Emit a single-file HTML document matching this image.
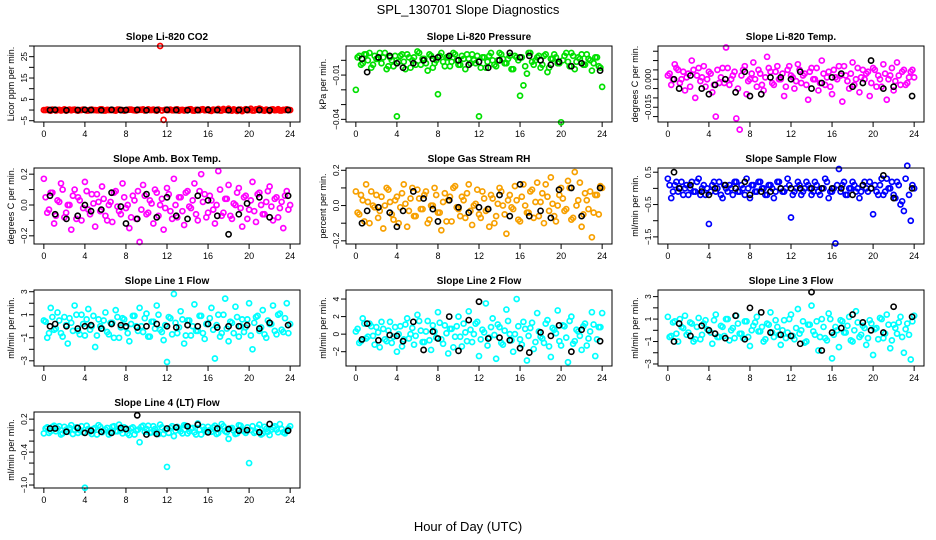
<!DOCTYPE html>
<html><head><meta charset="utf-8"><style>
html,body{margin:0;padding:0;background:#fff}
svg{display:block;font-family:"Liberation Sans",Arial,sans-serif}
</style></head><body>
<svg id="chart" width="936" height="540" viewBox="0 0 936 540" xmlns="http://www.w3.org/2000/svg">
<text x="468" y="14" text-anchor="middle" font-size="13">SPL_130701  Slope Diagnostics</text>
<text x="468" y="531" text-anchor="middle" font-size="13">Hour of Day (UTC)</text>
</svg>
<script>
const hoursColor=[0,0.33,0.67,1,1.33,1.67,2,2.33,2.67,3,3.33,3.67,4,4.33,4.67,5,5.33,5.67,6,6.33,6.67,7,7.33,7.67,8,8.33,8.67,9,9.33,9.67,10,10.33,10.67,11,11.33,11.67,12,12.33,12.67,13,13.33,13.67,14,14.33,14.67,15,15.33,15.67,16,16.33,16.67,17,17.33,17.67,18,18.33,18.67,19,19.33,19.67,20,20.33,20.67,21,21.33,21.67,22,22.33,22.67,23,23.33,23.67,24];
const hoursColorB=[0.17,0.5,0.83,1.17,1.5,1.83,2.17,2.5,2.83,3.17,3.5,3.83,4.17,4.5,4.83,5.17,5.5,5.83,6.17,6.5,6.83,7.17,7.5,7.83,8.17,8.5,8.83,9.17,9.5,9.83,10.17,10.5,10.83,11.17,11.5,11.83,12.17,12.5,12.83,13.17,13.5,13.83,14.17,14.5,14.83,15.17,15.5,15.83,16.17,16.5,16.83,17.17,17.5,17.83,18.17,18.5,18.83,19.17,19.5,19.83,20.17,20.5,20.83,21.17,21.5,21.83,22.17,22.5,22.83,23.17,23.5,23.83];
const hoursBlack=[0.6,1.1,2.2,3.3,4,4.6,5.6,6.6,7.5,8,9.1,10,11,12,12.9,14,15,16,16.9,18,19,19.8,21,22,23.8];
const xTicks=[0,4,8,12,16,20,24];

const co2Color=[0,.2,-.3,.1,0,-.2,.3,0,-.1,.2,-.3,0,.1,-.2,.2,0,-.1,.3,-.2,0,.1,-.3,.2,0,-.1,.2,0,-.2,.1,.3,-.1,0,.2,-.3,30,-4.6,0,.2,-.1,.3,0,-.2,.1,.4,-.3,0,.2,-.1,.3,-.4,0,.5,-.2,.1,.6,-.3,0,.2,-.5,.4,0,-.2,.3,.7,-.1,.2,-.4,.3,0,-.2,.1,.3,0];
const co2ColorB=[0,-.1,.2,-.2,.1,0,-.3,.2,.1,-.1,0,.2,-.2,.1,0,-.1,.3,-.2,.1,0,-.1,.2,0,-.3,.1,.2,-.1,0,.1,-.2,.3,0,-.1,.2,-.2,.1,0,-.1,.2,-.3,.1,0,.3,-.2,.1,-.1,.4,0,-.3,.2,.1,-.2,.5,0,-.1,.3,-.4,.2,0,-.1,.6,-.2,.1,.3,-.3,0,.2,-.1,.4,-.2,0,.1];
const co2Black=[0,.1,-.1,0,.1,0,-.1,.1,0,0,.1,-.1,0,.1,0,-.1,0,.1,0,-.1,0,.1,0,-.1,0];
const presColor=[-20,3,-2,4,5,-3,1,5,2,-6,2,-4,-38,3,-1,4,-5,2,6,-3,1,-7,3,-2,-23,5,-4,2,-1,4,-3,3,-6,1,4,-2,-38,2,-5,3,0,-4,5,1,-2,3,-6,2,-24,-17,-9,5,-3,2,-5,3,-8,1,4,-2,-42,3,-1,5,-6,2,4,-3,1,-7,2,-4,-18];
const presColorB=[2,-3,4,0,-5,3,1,-2,5,-4,0,3,-1,4,-6,2,0,-3,5,1,-2,4,-5,0,3,-1,2,-4,5,0,-3,1,4,-2,0,3,-5,2,-1,5,-3,0,4,-2,1,-6,3,0,2,-4,5,-1,0,3,-3,4,-5,1,2,-2,0,5,-4,3,-1,1,-3,4,0,-2,2,-5];
const presBlack=[1,-8,2,3,-2,-5,-2,0,1,2,3,0,-3,-1,-5,0,5,2,3,0,-3,-1,-4,-2,-7];
const ltempColor=[2,-3,8,5,0,-6,3,10,-10,6,1,-4,4,-7,-20,-2,6,17,-3,2,-21,-27,5,-8,0,9,-4,3,-6,12,4,-3,7,0,-9,5,2,-5,8,-2,3,-11,6,0,-6,10,-3,4,-8,1,7,-12,2,-5,9,0,-7,5,3,-9,6,-4,0,8,-11,2,-6,9,-3,5,-2,4,1];
const ltempColorB=[3,0,6,-2,4,1,-4,5,2,-1,7,0,3,-3,5,1,-2,6,0,4,-5,2,7,-1,3,0,5,-3,1,6,-2,4,0,3,-4,7,1,-1,5,2,-3,4,0,6,-2,3,1,-4,5,0,2,7,-1,3,-3,6,1,0,4,-2,5,2,-4,3,0,6,-1,2,4,-3,1,5];
const ltempBlack=[0,-5,2,-5,-8,-3,0,-7,4,-9,-8,1,1,0,4,-5,-2,1,3,-4,-2,10,-5,-4,-9];
const ambColor=[17,-5,8,-12,3,14,-8,0,-16,10,5,-10,15,-3,7,-14,2,12,-7,0,-11,9,-4,14,-2,-15,6,-9,-24,13,-6,3,-12,8,0,-16,11,-4,17,-8,5,-13,9,-2,14,-10,20,7,-5,3,-12,22,-7,4,13,-9,0,11,-14,6,-3,15,-11,8,-6,2,12,-10,5,-2,-15,9,0];
const ambColorB=[5,-3,8,-7,2,10,-5,0,6,-9,3,-2,9,-6,1,7,-4,4,-10,2,8,-1,-6,5,0,-8,3,9,-3,6,-5,1,10,-7,4,-2,7,-9,0,5,-4,8,-1,3,-6,9,2,-8,6,-3,0,10,-5,4,-7,1,8,-2,5,-9,3,-4,7,0,-6,9,-1,4,-8,2,6,-3];
const ambBlack=[6,-6,-9,-7,0,-4,-3,8,-1,-12,-9,7,-8,5,-7,-9,6,3,-7,-19,-6,1,5,-8,6];
const rhColor=[8,-5,3,12,-10,0,6,-3,-13,10,2,-8,5,-1,12,-12,4,-6,9,-2,6,-10,0,10,-4,-14,7,3,-9,11,-2,5,-7,12,-11,1,-5,8,-3,-12,4,-6,10,0,-16,6,-2,3,-9,12,-4,8,-7,13,2,-10,5,16,-6,0,10,-3,14,-8,19,3,-12,7,-2,-18,6,-5,10];
const rhColorB=[-4,6,-9,2,8,-1,-7,5,0,9,-5,3,-10,7,1,-3,10,-6,4,-2,8,-8,0,6,-4,2,-9,5,10,-1,-6,3,7,-3,0,9,-7,4,-2,6,-10,1,8,-5,3,-1,11,-8,5,0,-4,9,2,-6,7,12,-3,1,-9,6,4,-2,10,-7,0,13,-5,3,8,-4,6,11];
const rhBlack=[-10,-3,-1,-4,-12,-3,8,4,-2,-9,3,-1,-4,-1,-2,6,-6,12,-6,-3,-7,9,10,-6,10];
const sflowColor=[3,-3,1,-1,2,0,-2,2,-1,3,0,-2,-11,1,-1,2,-3,0,1,-2,2,-1,0,3,-3,1,-1,2,0,-2,1,-3,2,0,-1,3,-9,-1,2,-2,0,1,-2,2,-1,0,3,-3,-1,-17,6,1,-2,0,2,-1,-3,1,0,2,-8,-1,1,-2,3,0,-2,2,-5,-7,7,-10,0];
const sflowColorB=[1,-1,2,0,-2,1,0,-1,2,-2,1,0,-1,2,0,-2,1,-1,0,2,-1,1,-2,0,1,-1,2,0,-2,1,0,-1,2,-1,0,1,-2,0,1,-1,2,0,-1,1,-2,0,2,-1,0,1,-1,2,-2,0,1,0,-1,2,-1,0,1,-2,3,-1,0,2,-3,1,-4,3,-2,1];
const sflowBlack=[5,0,1,-1,-2,0,1,0,2,-2,-1,-1,0,0,0,0,0,0,0,-2,1,0,4,-3,0];
const line1Color=[5,-10,16,-3,12,-6,8,-15,3,18,-4,10,-8,15,0,-18,6,-2,12,-7,3,14,-10,7,-1,-13,9,0,16,-5,11,-9,4,18,-3,-12,-31,7,28,-6,13,-15,5,-8,19,-4,9,-11,2,16,-28,10,-6,24,-13,3,17,-9,6,-1,20,-20,8,-4,14,-10,2,18,-7,11,-5,20,2];
const line1ColorB=[4,-6,8,-2,5,-9,1,7,-4,10,-7,2,6,-3,9,-8,0,5,-5,3,-10,8,-1,6,-6,2,9,-4,0,7,-9,4,-2,10,-5,1,8,-7,3,-1,6,-8,5,0,-4,9,-6,2,7,-3,1,-9,10,-2,4,-6,8,0,-5,6,-8,3,9,-1,-7,5,2,-4,10,-3,7,-6];
const line1Black=[0,2,0,-2,0,1,-2,2,1,0,-1,0,2,0,-1,1,0,2,-1,0,0,1,-2,3,1];
const line2Color=[3,-10,18,-5,12,-2,8,-15,6,-8,14,-3,-20,9,-6,18,0,-12,22,4,-9,15,-18,3,25,-6,10,-22,6,-3,20,-14,2,26,-9,12,-25,5,35,-4,18,-28,8,-12,28,0,-20,40,-6,14,-30,7,-17,24,-3,-10,16,-26,5,27,-13,9,-32,20,-8,3,-18,12,-5,25,-25,8,24];
const line2ColorB=[6,-8,12,-3,9,-12,2,14,-6,4,-10,8,0,-14,11,-5,7,-2,15,-9,3,-7,10,-4,13,-11,1,6,-15,9,-3,12,-8,5,0,14,-6,2,-13,8,-1,11,-10,4,15,-7,0,9,-12,6,-2,13,-9,3,-5,12,-14,7,1,-8,10,-4,15,-11,5,-2,9,-13,3,11,-6,8];
const line2Black=[-6,12,-7,-1,-2,-8,14,-18,3,-5,20,-19,16,37,-5,-4,-7,-16,-21,2,-2,10,-20,5,-8];
const line3Color=[12,-5,8,-10,3,13,-2,6,-8,11,-4,9,0,-12,14,-6,3,10,-9,2,13,-3,-7,8,-14,4,12,-1,-10,6,16,-6,3,-13,9,-2,14,-8,19,0,-11,5,22,-4,-18,10,-7,15,-25,3,-15,8,-2,12,-10,17,-6,4,-13,9,-22,2,11,-7,14,-16,5,-3,12,-20,6,-26,13];
const line3ColorB=[-6,7,-3,10,2,-4,7,-10,3,-8,6,1,-2,9,-6,4,-5,10,0,-7,6,-3,8,-6,0,7,-1,3,-8,5,-2,9,-4,0,-7,10,-5,2,-3,8,-10,5,-1,8,-6,3,-9,10,-4,0,9,-2,4,-9,0,7,-4,2,-7,6,1,-8,10,-3,5,-9,2,7,-6,1,-4,8];
const line3Black=[-10,6,-5,4,0,-3,-7,13,-8,20,16,-2,-4,-5,-12,34,-18,-2,2,14,7,0,-2,21,12];
const line4Color=[-6,5,-2,8,3,-8,6,-3,9,0,-5,7,-105,2,-7,4,9,-4,1,-8,6,-2,10,-6,3,-9,5,-1,-22,8,2,-5,7,-3,10,-7,-67,4,-11,6,-2,9,-6,3,-4,12,-8,1,6,-3,8,-5,11,-2,-16,4,-7,9,0,-5,-60,7,-3,10,-6,2,-9,5,1,11,-4,-2,7];
const line4ColorB=[3,-5,6,-2,7,-6,1,4,-7,5,0,-4,8,-3,2,-8,6,-1,4,-5,7,-2,0,5,-6,3,-8,1,6,-3,8,-4,2,-7,5,0,-5,7,-1,3,-6,8,-2,4,-8,1,6,-3,0,5,-7,2,7,-4,3,-1,-6,8,-2,5,0,-5,4,-8,6,-3,1,7,-4,2,-6,3];
const line4Black=[3,3,-3,4,-5,-1,-3,-5,4,2,27,-8,-7,3,5,7,10,-4,3,2,-1,0,-4,11,-1];

const ticksCo2=[-5,0,5,10,15,20,25,30], labelsCo2=['-5','5','15','25'];
const ticksPres=[-0.04,-0.03,-0.02,-0.01,0], labelsPres=['-0.04','-0.01'];
const ticksLtemp=[-0.02,-0.015,-0.01,-0.005,0,0.005,0.01,0.015], labelsLtemp=['-0.015','0.000'];
const ticksAmb=[-0.2,-0.1,0,0.1,0.2], labelsAmb=['-0.2','0.0','0.2'];
const ticksRh=[-0.2,-0.1,0,0.1,0.2], labelsRh=['-0.2','0.0','0.2'];
const ticksSflow=[-1.5,-1,-0.5,0,0.5], labelsSflow=['-1.5','-0.5','0.5'];
const ticksLine1=[-3,-2,-1,0,1,2,3], labelsLine1=['-3','-1','1','3'];
const ticksLine2=[-2,0,2,4], labelsLine2=['-2','0','2','4'];
const ticksLine3=[-3,-2,-1,0,1,2,3], labelsLine3=['-3','-1','1','3'];
const ticksLine4=[-1,-0.8,-0.6,-0.4,-0.2,0,0.2], labelsLine4=['-1.0','-0.4','0.2'];

const panels=[
 {id:'co2',title:'Slope Li-820 CO2',ylab:'Licor ppm per min.',col:0,row:0,lo:-5.6,hi:30,unit:1,color:'#ff0000',vals:co2Color,valsB:co2ColorB,blk:co2Black,ticks:ticksCo2,labels:labelsCo2},
 {id:'pressure',title:'Slope Li-820 Pressure',ylab:'kPa per min.',col:1,row:0,lo:-0.0418,hi:0.0097,unit:0.001,color:'#00e000',vals:presColor,valsB:presColorB,blk:presBlack,ticks:ticksPres,labels:labelsPres},
 {id:'li820-temp',title:'Slope Li-820 Temp.',ylab:'degrees C per min.',col:2,row:0,lo:-0.0229,hi:0.0178,unit:0.001,color:'#ff00ff',vals:ltempColor,valsB:ltempColorB,blk:ltempBlack,ticks:ticksLtemp,labels:labelsLtemp},
 {id:'amb-box-temp',title:'Slope Amb. Box Temp.',ylab:'degrees C per min.',col:0,row:1,lo:-0.253,hi:0.24,unit:0.01,color:'#ff00ff',vals:ambColor,valsB:ambColorB,blk:ambBlack,ticks:ticksAmb,labels:labelsAmb},
 {id:'gas-rh',title:'Slope Gas Stream RH',ylab:'percent per min.',col:1,row:1,lo:-0.218,hi:0.213,unit:0.01,color:'#f7a000',vals:rhColor,valsB:rhColorB,blk:rhBlack,ticks:ticksRh,labels:labelsRh},
 {id:'sample-flow',title:'Slope Sample Flow',ylab:'ml/min per min.',col:2,row:1,lo:-1.72,hi:0.63,unit:0.1,color:'#0000ff',vals:sflowColor,valsB:sflowColorB,blk:sflowBlack,ticks:ticksSflow,labels:labelsSflow},
 {id:'line1-flow',title:'Slope Line 1 Flow',ylab:'ml/min per min.',col:0,row:2,lo:-3.45,hi:3.15,unit:0.1,color:'#00ffff',vals:line1Color,valsB:line1ColorB,blk:line1Black,ticks:ticksLine1,labels:labelsLine1},
 {id:'line2-flow',title:'Slope Line 2 Flow',ylab:'ml/min per min.',col:1,row:2,lo:-3.63,hi:5.03,unit:0.1,color:'#00ffff',vals:line2Color,valsB:line2ColorB,blk:line2Black,ticks:ticksLine2,labels:labelsLine2},
 {id:'line3-flow',title:'Slope Line 3 Flow',ylab:'ml/min per min.',col:2,row:2,lo:-3.18,hi:3.59,unit:0.1,color:'#00ffff',vals:line3Color,valsB:line3ColorB,blk:line3Black,ticks:ticksLine3,labels:labelsLine3},
 {id:'line4-flow',title:'Slope Line 4 (LT) Flow',ylab:'ml/min per min.',col:0,row:3,lo:-1.054,hi:0.33,unit:0.01,color:'#00ffff',vals:line4Color,valsB:line4ColorB,blk:line4Black,ticks:ticksLine4,labels:labelsLine4}
];

const NS='http://www.w3.org/2000/svg';
const svg=document.getElementById('chart');
function mk(tag,attrs,parent){const e=document.createElementNS(NS,tag);for(const k in attrs)e.setAttribute(k,attrs[k]);(parent||svg).appendChild(e);return e;}

panels.forEach(p=>{
  const L=34+312*p.col, T=46+122*p.row, W=266, H=76;
  const xs=h=>L+(h+0.96)/25.92*W;
  const ys=v=>T+(p.hi-v)/(p.hi-p.lo)*H;
  const g=mk('g',{});
  
  
  const t=mk('text',{x:L+W/2,y:T-6,'text-anchor':'middle','font-size':'10','font-weight':'bold'},g);
  t.textContent=p.title;
  
  
  const yl=mk('text',{transform:'translate('+(L-20)+','+(T+H/2)+') rotate(-90)','text-anchor':'middle','font-size':'9'},g);
  yl.textContent=p.ylab;
  
  
  const xa=mk('g',{},g);
  
  
  mk('line',{x1:xs(xTicks[0]),x2:xs(xTicks[xTicks.length-1]),y1:T+H,y2:T+H,stroke:'#000','stroke-width':1},xa);
  xTicks.forEach(v=>{
    mk('line',{x1:xs(v),x2:xs(v),y1:T+H,y2:T+H+5,stroke:'#000','stroke-width':1},xa);
    const tl=mk('text',{x:xs(v),y:T+H+15,'text-anchor':'middle','font-size':'9'},xa);
    tl.textContent=String(v);
    
    
  });
  const ya=mk('g',{},g);
  
  
  p.ticks.forEach(v=>{
    const y=ys(v); if(y<T-0.5||y>T+H+0.5) return;
    mk('line',{x1:L-5,x2:L,y1:y,y2:y,stroke:'#000','stroke-width':1},ya);
  });
  p.labels.forEach(s=>{
    const y=ys(parseFloat(s));
    const tl=mk('text',{transform:'translate('+(L-7)+','+y+') rotate(-90)','text-anchor':'middle','font-size':'8.3'},ya);
    tl.textContent=s.replace('-','\u2212');
    
    
  });
  const cs=mk('g',{},g);
  
  
  const n=Math.min(hoursColor.length,p.vals.length);
  for(let i=0;i<n;i++){
    const c=mk('circle',{cx:xs(hoursColor[i]),cy:ys(p.vals[i]*p.unit),r:2.5,fill:'none',stroke:p.color,'stroke-width':1.7},cs);
    
    
  }
  const nb=Math.min(hoursColorB.length,p.valsB.length);
  for(let i=0;i<nb;i++){
    const c=mk('circle',{cx:xs(hoursColorB[i]),cy:ys(p.valsB[i]*p.unit),r:2.5,fill:'none',stroke:p.color,'stroke-width':1.7},cs);
    
    
  }
  const bs=mk('g',{},g);
  
  
  const m=Math.min(hoursBlack.length,p.blk.length);
  for(let i=0;i<m;i++){
    const c=mk('circle',{cx:xs(hoursBlack[i]),cy:ys(p.blk[i]*p.unit),r:2.6,fill:'none',stroke:'#000','stroke-width':1.6},bs);
    
    
  }
  const box=mk('rect',{x:L,y:T,width:W,height:H,fill:'none',stroke:'#000','stroke-width':1},g);
  
  
});
</script>
</body></html>
